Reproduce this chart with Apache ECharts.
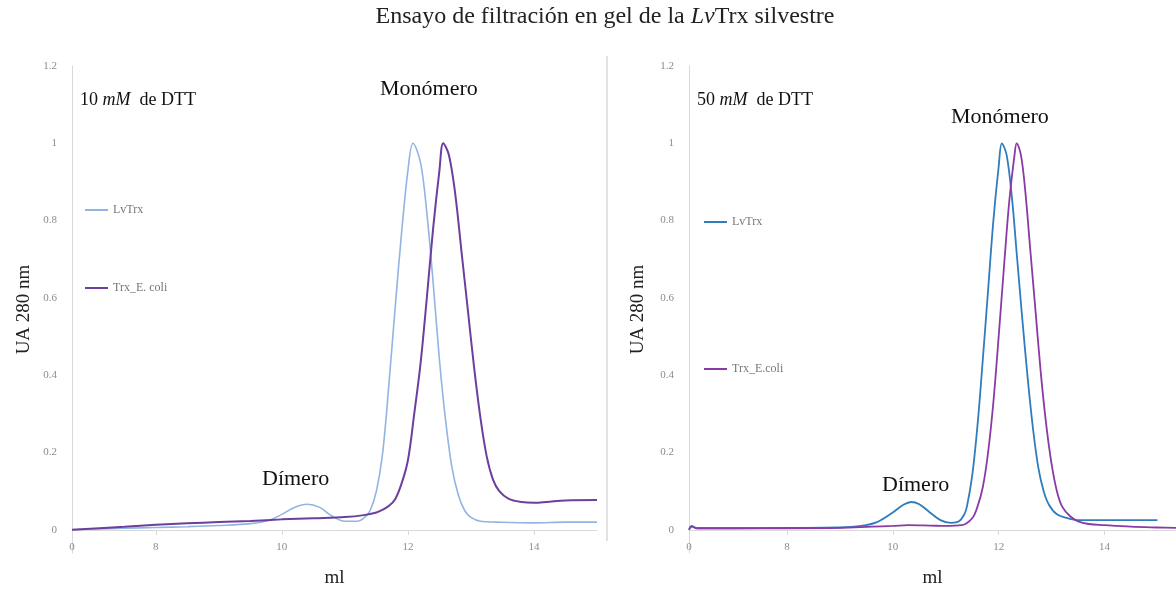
<!DOCTYPE html>
<html><head><meta charset="utf-8">
<script src="https://cdn.jsdelivr.net/npm/echarts@6/dist/echarts.min.js"></script>
<style>html,body{margin:0;padding:0;background:#fff}#c{width:1176px;height:597px}</style>
</head><body><div id="c"></div>
<script>
// ---- data (10 mM DTT panel) ----
const leftLvX = [6.67,7.0,7.5,8.0,8.5,9.0,9.5,9.8,10.0,10.2,10.4,10.6,10.8,11.0,11.2,11.3,11.4,11.5,11.6,11.7,11.8,11.9,12.0,12.08,12.2,12.3,12.4,12.5,12.6,12.7,12.8,12.9,13.0,13.15,13.4,14.0,14.5,15.0];
const leftLvY = [0.0,0.002,0.004,0.006,0.008,0.011,0.016,0.025,0.04,0.058,0.066,0.058,0.035,0.022,0.022,0.03,0.05,0.1,0.2,0.38,0.58,0.77,0.93,1.0,0.95,0.82,0.64,0.44,0.28,0.16,0.09,0.05,0.032,0.022,0.02,0.018,0.02,0.02];
const leftEcX = [6.67,7.5,8.0,8.5,9.0,9.5,10.0,10.5,11.0,11.3,11.5,11.6,11.7,11.8,11.9,12.0,12.1,12.2,12.3,12.4,12.5,12.56,12.65,12.75,12.85,12.95,13.05,13.15,13.25,13.35,13.45,13.6,13.8,14.0,14.2,14.5,15.0];
const leftEcY = [0.0,0.008,0.013,0.017,0.02,0.023,0.027,0.03,0.033,0.038,0.045,0.052,0.062,0.08,0.12,0.18,0.3,0.43,0.6,0.78,0.93,1.0,0.97,0.87,0.72,0.57,0.42,0.29,0.19,0.13,0.1,0.08,0.072,0.07,0.072,0.076,0.077];
// ---- data (50 mM DTT panel) ----
const rightLvX = [6.15,6.2,6.3,7.0,8.0,9.0,9.4,9.7,10.0,10.2,10.35,10.5,10.7,10.9,11.1,11.25,11.35,11.4,11.5,11.6,11.7,11.8,11.9,12.0,12.06,12.15,12.25,12.35,12.45,12.55,12.65,12.75,12.85,12.95,13.1,13.3,13.5,14.0,14.5,15.0];
const rightLvY = [0.0,0.01,0.004,0.004,0.005,0.006,0.01,0.02,0.045,0.065,0.072,0.066,0.045,0.025,0.018,0.022,0.04,0.06,0.14,0.27,0.44,0.62,0.8,0.94,1.0,0.97,0.86,0.7,0.54,0.39,0.26,0.16,0.1,0.065,0.04,0.03,0.025,0.025,0.025,0.025];
const rightEcX = [6.15,6.2,6.3,7.0,8.0,9.0,9.6,10.0,10.3,10.7,11.0,11.3,11.5,11.6,11.7,11.8,11.9,12.0,12.1,12.2,12.3,12.34,12.42,12.5,12.6,12.7,12.8,12.9,13.0,13.1,13.2,13.35,13.5,13.7,14.0,14.5,15.0,15.35];
const rightEcY = [0.0,0.008,0.004,0.004,0.004,0.005,0.008,0.01,0.012,0.011,0.01,0.012,0.03,0.06,0.11,0.2,0.33,0.5,0.68,0.85,0.97,1.0,0.97,0.88,0.72,0.56,0.4,0.27,0.17,0.1,0.06,0.035,0.022,0.015,0.012,0.008,0.006,0.005];
// ---- axes / labels ----
const yTicks = [0,0.2,0.4,0.6,0.8,1,1.2];
const leftXTicks = [6.67,8,10,12,14];
const rightXTicks = [6.15,8,10,12,14];
const firstTickLabel = '0';

const zip = (xs, ys) => xs.map((x, i) => [x, ys[i]]);
const serif = 'Liberation Serif';
const grey = '#d9d9d9';
const Y_MIN = -0.06, Y_MAX = 1.2, GRID_TOP = 66, GRID_BOTTOM = 44, H = 597;
// shift the horizontal axis up so it sits on y = 0 (as in the reference)
const zeroOffset = -Math.round((0 - Y_MIN) / (Y_MAX - Y_MIN) * (H - GRID_TOP - GRID_BOTTOM));

function xAxisFor(idx, min, max, ticks) {
  return {
    type: 'value', gridIndex: idx, min: min, max: max, offset: zeroOffset,
    axisLine: { onZero: false, lineStyle: { color: grey } },
    axisTick: { show: true, customValues: ticks.slice(1), length: 5, lineStyle: { color: grey } },
    splitLine: { show: false },
    axisLabel: { customValues: ticks, margin: 12, color: '#8c8c8c', fontFamily: serif, fontSize: 11,
      formatter: v => (v === min ? firstTickLabel : String(v)) },
    name: 'ml', nameLocation: 'middle', nameGap: 39,
    nameTextStyle: { fontFamily: serif, fontSize: 19, color: '#222' }
  };
}
function yAxisFor(idx, gap) {
  return {
    type: 'value', gridIndex: idx, min: Y_MIN, max: Y_MAX,
    axisLine: { show: true, lineStyle: { color: grey } },
    axisTick: { show: false },
    splitLine: { show: false },
    axisLabel: { customValues: yTicks, margin: 15, color: '#8c8c8c', fontFamily: serif, fontSize: 11 },
    name: 'UA 280 nm', nameLocation: 'middle', nameRotate: 90, nameGap: gap,
    nameTextStyle: { fontFamily: serif, fontSize: 19, color: '#222' }
  };
}
const lineS = (name, xi, data, color, w) => ({
  name: name, type: 'line', xAxisIndex: xi, yAxisIndex: xi, data: data,
  symbol: 'none', smooth: 0.35, lineStyle: { color: color, width: w }, itemStyle: { color: color }
});
const txt = (x, y, text, size, rich) => ({
  type: 'text', x: x, y: y,
  style: { text: text, fontFamily: serif, fontSize: size, fill: '#111', rich: rich || {} }
});
const richIt = { it: { fontFamily: serif, fontStyle: 'italic', fontSize: 18, fill: '#111' } };
const legendIcon = 'rect';

const chart = echarts.init(document.getElementById('c'), null, { renderer: 'canvas' });
chart.setOption({
  backgroundColor: '#fff',
  animation: false,
  title: {
    text: 'Ensayo de filtración en gel de la {i|Lv}Trx silvestre',
    left: 600, top: 0, textAlign: 'center',
    textStyle: { fontFamily: serif, fontSize: 24, fontWeight: 'normal', color: '#222',
      rich: { i: { fontFamily: serif, fontSize: 24, fontStyle: 'italic', color: '#222' } } }
  },
  grid: [
    { left: 72, top: GRID_TOP, width: 525, bottom: GRID_BOTTOM, containLabel: false, outerBoundsMode: 'none' },
    { left: 689, top: GRID_TOP, right: 0, bottom: GRID_BOTTOM, containLabel: false, outerBoundsMode: 'none' }
  ],
  xAxis: [xAxisFor(0, 6.67, 15, leftXTicks), xAxisFor(1, 6.15, 15.35, rightXTicks)],
  yAxis: [yAxisFor(0, 38), yAxisFor(1, 41)],
  legend: [
    { data: ['LvTrx', 'Trx_E. coli'], orient: 'vertical', left: 80, top: 199, itemGap: 66,
      icon: legendIcon, itemWidth: 23, itemHeight: 2, selectedMode: false,
      textStyle: { fontFamily: serif, fontSize: 12, color: '#777' } },
    { data: ['LvTrx (50 mM)', 'Trx_E.coli'], orient: 'vertical', left: 699, top: 211, itemGap: 135,
      icon: legendIcon, itemWidth: 23, itemHeight: 2, selectedMode: false,
      formatter: n => n.replace(' (50 mM)', ''),
      textStyle: { fontFamily: serif, fontSize: 12, color: '#777' } }
  ],
  series: [
    lineS('LvTrx', 0, zip(leftLvX, leftLvY), '#93b3e2', 1.6),
    lineS('Trx_E. coli', 0, zip(leftEcX, leftEcY), '#6b3f9e', 2),
    lineS('LvTrx (50 mM)', 1, zip(rightLvX, rightLvY), '#2f7dbd', 1.8),
    lineS('Trx_E.coli', 1, zip(rightEcX, rightEcY), '#8a3aa6', 1.8)
  ],
  graphic: [
    { type: 'line', shape: { x1: 607, y1: 56, x2: 607, y2: 541 }, style: { stroke: grey, lineWidth: 1.5 } },
    txt(80, 91, '10 {it|mM}  de DTT', 18, richIt),
    txt(697, 91, '50 {it|mM}  de DTT', 18, richIt),
    txt(380, 78, 'Monómero', 22),
    txt(951, 106, 'Monómero', 22),
    txt(262, 468, 'Dímero', 22),
    txt(882, 474, 'Dímero', 22)
  ]
});
</script></body></html>
